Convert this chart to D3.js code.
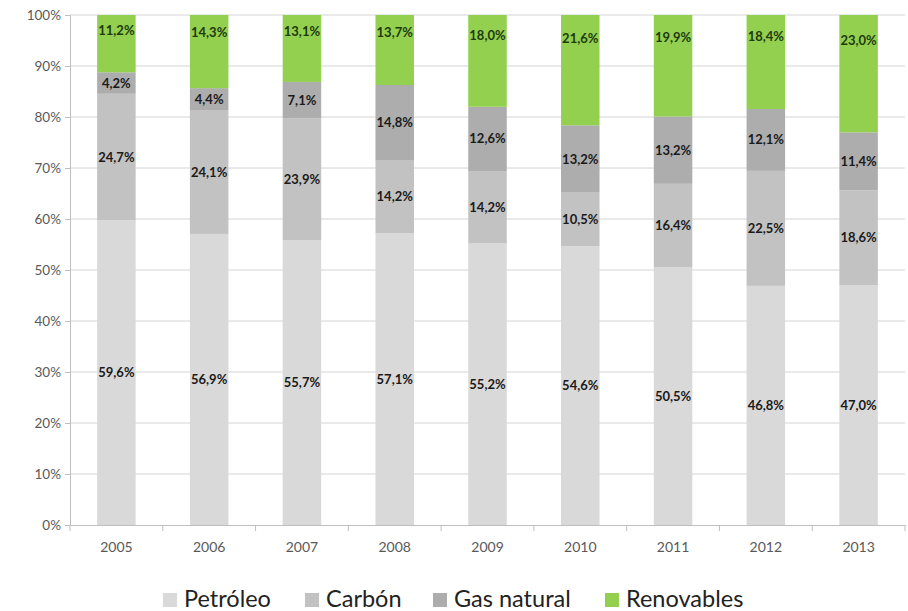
<!DOCTYPE html>
<html>
<head>
<meta charset="utf-8">
<script src="https://cdn.jsdelivr.net/npm/d3@7"></script>
<style>
  html, body { margin: 0; padding: 0; background: #fff; }
  svg { display: block; }
</style>
</head>
<body>
<svg id="chart" width="908" height="611"></svg>
<script>
const years = ["2005","2006","2007","2008","2009","2010","2011","2012","2013"];
const petroleo   = [59.6, 56.9, 55.7, 57.1, 55.2, 54.6, 50.5, 46.8, 47.0];
const carbon     = [24.7, 24.1, 23.9, 14.2, 14.2, 10.5, 16.4, 22.5, 18.6];
const gasNatural = [4.2, 4.4, 7.1, 14.8, 12.6, 13.2, 13.2, 12.1, 11.4];
const renovables = [11.2, 14.3, 13.1, 13.7, 18.0, 21.6, 19.9, 18.4, 23.0];
const seriesNames = ["Petróleo", "Carbón", "Gas natural", "Renovables"];
const yTicks = [0, 0.1, 0.2, 0.3, 0.4, 0.5, 0.6, 0.7, 0.8, 0.9, 1.0];

const colors = ["#d9d9d9", "#c2c2c2", "#adadad", "#93d050"];
const labelColors = ["#1a1a1a", "#1a1a1a", "#1a1a1a", "#1f3a0c"];

const seriesData = [petroleo, carbon, gasNatural, renovables];
const rows = years.map((yr, i) => {
  const r = { year: yr };
  seriesNames.forEach((s, j) => r[s] = seriesData[j][i]);
  return r;
});

const svg = d3.select("#chart");
const margin = { left: 70, right: 3, top: 15, bottom: 86 };
const W = 908, H = 611;

const x = d3.scaleBand().domain(years).range([margin.left, W - margin.right]).paddingInner(0.585).paddingOuter(0.2925);
const y = d3.scaleLinear().domain([0, 1]).range([H - margin.bottom, margin.top]);

const stack = d3.stack().keys(seriesNames).offset(d3.stackOffsetExpand);
const stacked = stack(rows);

const font = "Lato, 'Open Sans', sans-serif";

// gridlines
svg.append("g").selectAll("line").data(yTicks.slice(1)).join("line")
  .attr("x1", margin.left).attr("x2", W - margin.right)
  .attr("y1", d => y(d)).attr("y2", d => y(d))
  .attr("stroke", "#d4d4d4").attr("stroke-width", 1);

// bars
const g = svg.append("g");
stacked.forEach((layer, j) => {
  g.append("g").selectAll("rect").data(layer).join("rect")
    .attr("x", d => x(d.data.year))
    .attr("width", x.bandwidth())
    .attr("y", d => y(d[1]))
    .attr("height", d => y(d[0]) - y(d[1]))
    .attr("fill", colors[j]);
});

// y axis
const yAxis = d3.axisLeft(y).tickValues(yTicks).tickFormat(d3.format(".0%")).tickSize(5).tickPadding(4);
const ya = svg.append("g").attr("transform", `translate(${margin.left},0)`).call(yAxis);
ya.select(".domain").attr("stroke", "#bfbfbf");
ya.selectAll(".tick line").attr("stroke", "#bfbfbf");
ya.selectAll(".tick text").attr("font-family", font).attr("font-size", 13.5).attr("fill", "#595959");

// x axis
const xAxis = d3.axisBottom(x).tickSize(0).tickPadding(17);
const xa = svg.append("g").attr("transform", `translate(0,${y(0)})`).call(xAxis);
xa.select(".domain").attr("stroke", "#bfbfbf");
xa.selectAll(".tick text").attr("font-family", font).attr("font-size", 14).attr("fill", "#595959");
// tick marks at band boundaries
const step = x.step();
const bounds = years.map(yr => x(yr) - (step - x.bandwidth()) / 2).concat([W - margin.right]);
xa.append("g").selectAll("line").data(bounds).join("line")
  .attr("x1", d => d).attr("x2", d => d).attr("y1", 0).attr("y2", 6)
  .attr("stroke", "#bfbfbf");

// data labels
const lg = svg.append("g");
stacked.forEach((layer, j) => {
  lg.append("g").selectAll("text").data(layer).join("text")
    .attr("x", d => x(d.data.year) + x.bandwidth() / 2)
    .attr("y", d => {
      if (j === 3) {
        const h = y(d[0]) - y(d[1]);
        return y(d[1]) + 5.5 + 0.166 * h;
      }
      return (y(d[0]) + y(d[1])) / 2;
    })
    .attr("dy", "0.35em")
    .attr("text-anchor", "middle")
    .attr("font-family", font).attr("font-weight", 700).attr("font-size", 13)
    .attr("fill", labelColors[j])
    .text((d, i) => d3.format(".1f")(seriesData[j][i]).replace(".", ",") + "%");
});

// legend
const legendX = [163, 305, 433, 605];
const leg = svg.append("g");
seriesNames.forEach((s, j) => {
  leg.append("rect").attr("x", legendX[j]).attr("y", 593).attr("width", 14).attr("height", 14).attr("fill", colors[j]);
  leg.append("text").attr("x", legendX[j] + 21).attr("y", 607)
    .attr("font-family", font).attr("font-size", 23.5).attr("fill", "#222")
    .text(s);
});
</script>
</body>
</html>
